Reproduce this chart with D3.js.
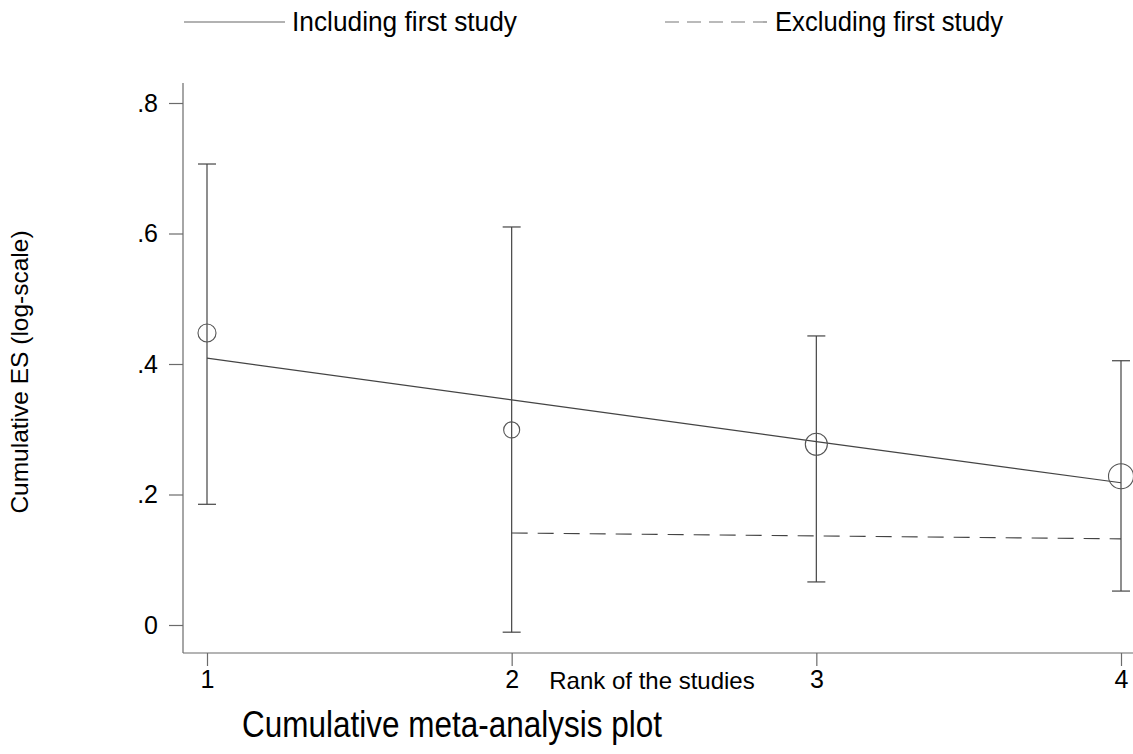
<!DOCTYPE html>
<html><head><meta charset="utf-8">
<script src="https://cdn.jsdelivr.net/npm/d3@7"></script>
<style>body{margin:0;background:#fff}svg{display:block}text{font-family:"Liberation Sans",Arial,sans-serif}</style>
</head><body>
<svg id="c" width="1133" height="754"></svg>
<script>
const ranks = [1, 2, 3, 4];
const cumES = [0.4475, 0.299, 0.277, 0.228];
const ciLow = [0.185, -0.011, 0.066, 0.052];
const ciHigh = [0.7065, 0.610, 0.443, 0.405];
const weights = [81, 64, 121, 156];
const fitIncluding = [0.409, 0.345, 0.281, 0.218];
const ranksExcluding = [2, 3, 4];
const fitExcluding = [0.141, 0.1365, 0.132];
const xTicks = [1, 2, 3, 4];
const yTicks = [0, 0.2, 0.4, 0.6, 0.8];
const yTickLabels = ["0", ".2", ".4", ".6", ".8"];
const legendLabels = ["Including first study", "Excluding first study"];

const svg = d3.select("#c");
const x = d3.scaleLinear().domain([1, 4]).range([207, 1121]);
const y = d3.scaleLinear().domain([0, 0.8]).range([625, 103]);
const r = d3.scaleSqrt().domain([0, 156]).range([0, 12.5]);
const lineCol = "#444", axisCol = "#6b6b6b";
const FF = "Liberation Sans, Arial, sans-serif";

// axes lines
svg.append("line").attr("x1", 183).attr("x2", 183).attr("y1", 83).attr("y2", 653).attr("stroke", axisCol).attr("stroke-width", 1.2);
svg.append("line").attr("x1", 183).attr("x2", 1133).attr("y1", 653).attr("y2", 653).attr("stroke", axisCol).attr("stroke-width", 1.2);

const yAxis = d3.axisLeft(y).tickValues(yTicks).tickFormat((d, i) => yTickLabels[i]).tickSize(14).tickPadding(11);
const gy = svg.append("g").attr("transform", "translate(183,0)").call(yAxis);
gy.select(".domain").remove();
gy.attr("font-size", 25).attr("font-family", FF);
gy.selectAll(".tick line").attr("stroke", axisCol).attr("stroke-width", 1.2);
gy.selectAll(".tick text").attr("fill", "#000");

const xAxis = d3.axisBottom(x).tickValues(xTicks).tickFormat(d3.format("d")).tickSize(13).tickPadding(4);
const gx = svg.append("g").attr("transform", "translate(0,653)").call(xAxis);
gx.select(".domain").remove();
gx.attr("font-size", 25).attr("font-family", FF);
gx.selectAll(".tick line").attr("stroke", axisCol).attr("stroke-width", 1.2);
gx.selectAll(".tick text").attr("fill", "#000");

// error bars
const cap = 9;
ranks.forEach((d, i) => {
  const g = svg.append("g").attr("stroke", lineCol).attr("stroke-width", 1.2);
  g.append("line").attr("x1", x(d)).attr("x2", x(d)).attr("y1", y(ciLow[i])).attr("y2", y(ciHigh[i]));
  g.append("line").attr("x1", x(d) - cap).attr("x2", x(d) + cap).attr("y1", y(ciLow[i])).attr("y2", y(ciLow[i]));
  g.append("line").attr("x1", x(d) - cap).attr("x2", x(d) + cap).attr("y1", y(ciHigh[i])).attr("y2", y(ciHigh[i]));
});

// fit lines
const line = d3.line().x(d => x(d[0])).y(d => y(d[1]));
svg.append("path").attr("d", line(ranks.map((d, i) => [d, fitIncluding[i]])))
  .attr("fill", "none").attr("stroke", lineCol).attr("stroke-width", 1.2);
svg.append("path").attr("d", line(ranksExcluding.map((d, i) => [d, fitExcluding[i]])))
  .attr("fill", "none").attr("stroke", lineCol).attr("stroke-width", 1.2).attr("stroke-dasharray", "16,10");

// circles
svg.selectAll("circle.pt").data(ranks).join("circle").attr("class", "pt")
  .attr("cx", d => x(d)).attr("cy", (d, i) => y(cumES[i])).attr("r", (d, i) => r(weights[i]))
  .attr("fill", "none").attr("stroke", "#555").attr("stroke-width", 1.1);

// legend
svg.append("line").attr("x1", 184).attr("x2", 285).attr("y1", 22).attr("y2", 22).attr("stroke", "#666").attr("stroke-width", 1.2);
svg.append("text").attr("x", 292).attr("y", 31).attr("font-size", 27).attr("textLength", 225).attr("lengthAdjust", "spacingAndGlyphs").text(legendLabels[0]);
svg.append("line").attr("x1", 665).attr("x2", 768).attr("y1", 22).attr("y2", 22).attr("stroke", "#777").attr("stroke-width", 1.2).attr("stroke-dasharray", "14,8");
svg.append("text").attr("x", 775).attr("y", 31).attr("font-size", 27).attr("textLength", 228).attr("lengthAdjust", "spacingAndGlyphs").text(legendLabels[1]);

// titles
svg.append("text").attr("x", 652).attr("y", 689).attr("text-anchor", "middle").attr("font-size", 24).text("Rank of the studies");
svg.append("text").attr("x", 452).attr("y", 737).attr("text-anchor", "middle").attr("font-size", 37).attr("textLength", 420).attr("lengthAdjust", "spacingAndGlyphs").text("Cumulative meta-analysis plot");
svg.append("text").attr("transform", "translate(28,372) rotate(-90)").attr("text-anchor", "middle").attr("font-size", 24.5).text("Cumulative ES (log-scale)");
</script>
</body></html>
